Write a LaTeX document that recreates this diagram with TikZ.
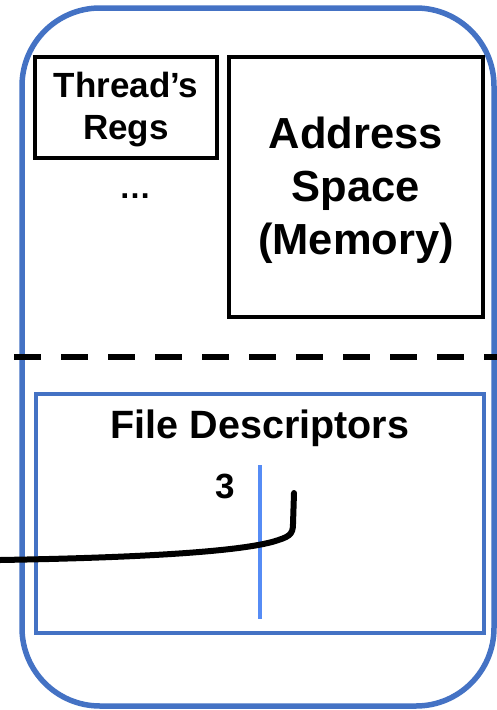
\documentclass[tikz,border=0pt]{standalone}
\usepackage{fontspec}
\setmainfont{Liberation Sans}
\definecolor{procblue}{RGB}{68,114,196}
\definecolor{fdline}{RGB}{86,140,245}
\begin{document}
\begin{tikzpicture}[x=1pt,y=-1pt,
  blackbox/.style={draw=black,line width=3.5pt,inner sep=0pt},
  lbl/.style={font=\bfseries,align=center,inner sep=0pt}]
\useasboundingbox (0,0) rectangle (497,710);
% process outline
\draw[procblue,line width=5.5pt,rounded corners=78pt] (22,8) rectangle (494,706);
% per-thread registers
\node[blackbox,minimum width=182pt,minimum height=101pt] (regs) at (126,107.5) {};
\node[lbl,font=\bfseries\fontsize{35}{42}\selectfont] (regstext) at (126,110) {Thread’s\\Regs};
\node[lbl,font=\bfseries\fontsize{32}{36}\selectfont] (dots) at (135,196) {…};
% address space
\node[blackbox,minimum width=254pt,minimum height=260pt] (mem) at (356,187) {};
\node[lbl,font=\bfseries\fontsize{43.5}{53}\selectfont] (memtext) at (356,190) {Address\\Space\\(Memory)};
% kernel boundary
\draw[black,line width=5.5pt,dash pattern=on 27pt off 20pt] (14,357) -- (497,357);
% file descriptor table
\draw[procblue,line width=3.5pt] (36,394) rectangle (484,633);
\node[lbl,font=\bfseries\fontsize{39.5}{44}\selectfont] (fdtitle) at (260,428) {File Descriptors};
\node[lbl,font=\bfseries\fontsize{35}{40}\selectfont] (fd3) at (225,486) {3};
\coordinate (divtop) at (260,465);
\coordinate (divbot) at (260,619);
\draw[fdline,line width=3.5pt] (divtop) -- (divbot);
% pointer from descriptor 3
\coordinate (ptrstart) at (0,560);
\coordinate (ptrend) at (294,493);
\draw[black,line width=6pt,line cap=round,line join=round]
  (ptrstart) .. controls (120,558) and (230,553) .. (272,542)
  .. controls (289,537) and (293,535) .. (293,524) -- (ptrend);
\end{tikzpicture}
\end{document}
